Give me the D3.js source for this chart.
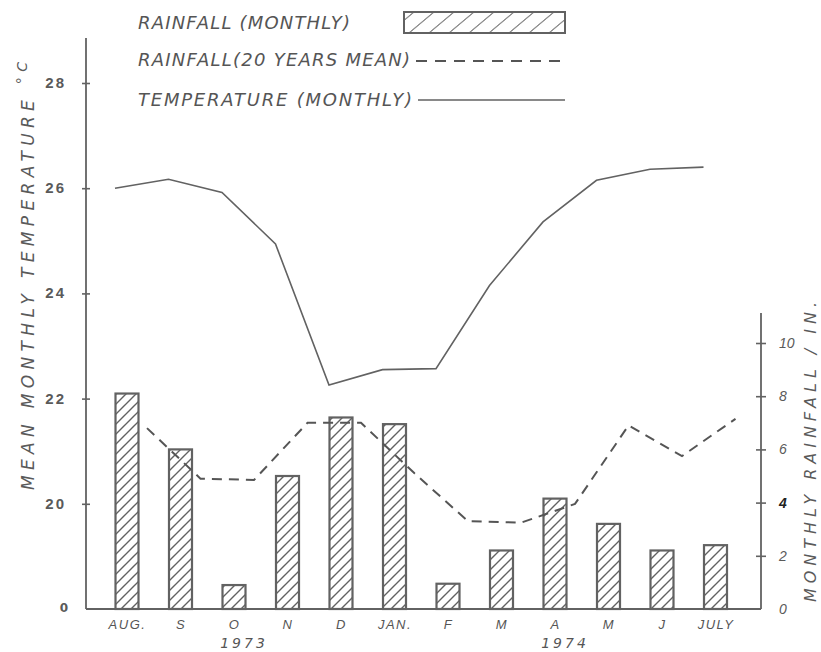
<!DOCTYPE html>
<html>
<head>
<meta charset="utf-8">
<script src="https://cdn.jsdelivr.net/npm/d3@7"></script>
<style>
  body { margin: 0; background: #fff; }
  svg { display: block; }
</style>
</head>
<body>
<script>
// months Aug 1973 .. July 1974
const monthKeys = ["aug73", "sep73", "oct73", "nov73", "dec73", "jan74",
                   "feb74", "mar74", "apr74", "may74", "jun74", "jul74"];
const monthLabels = ["AUG.", "S", "O", "N", "D", "JAN.", "F", "M", "A", "M", "J", "JULY"];

// monthly rainfall (inches)
const rainMonthly = [8.1, 6.0, 0.9, 5.0, 7.2, 6.95, 0.95, 2.2, 4.15, 3.2, 2.2, 2.4];
// 20 years mean rainfall (inches)
const rainMean = [6.8, 4.9, 4.85, 7.0, 7.0, 5.1, 3.3, 3.25, 3.95, 6.9, 5.75, 7.15];
// mean monthly temperature (deg C)
const temperature = [26.0, 26.17, 25.92, 24.94, 22.26, 22.55, 22.57, 24.15, 25.36, 26.15, 26.36, 26.4];

const tempTicks = [20, 22, 24, 26, 28];
const rainTicks = [0, 2, 4, 6, 8, 10];
const yearLabels = [{ text: "1973", at: "oct73" }, { text: "1974", at: "apr74" }];

const W = 821, H = 652;
const ink = "#626262";
const font = "'DejaVu Sans', sans-serif";

const svg = d3.select("body").append("svg")
  .attr("width", W).attr("height", H)
  .style("font-family", font);

// hatch patterns
const defs = svg.append("defs");
defs.append("pattern")
  .attr("id", "hatch")
  .attr("patternUnits", "userSpaceOnUse")
  .attr("width", 10).attr("height", 10)
  .append("path")
  .attr("d", "M-2,2 L2,-2 M0,10 L10,0 M8,12 L12,8")
  .attr("stroke", ink).attr("stroke-width", 1.4);
defs.append("pattern")
  .attr("id", "hatchLegend")
  .attr("patternUnits", "userSpaceOnUse")
  .attr("width", 20).attr("height", 21)
  .attr("patternTransform", "translate(404,12) skewX(-50)")
  .append("line")
  .attr("x1", 10).attr("y1", 0).attr("x2", 10).attr("y2", 21)
  .attr("stroke", ink).attr("stroke-width", 1.4);

// scales
const x = d3.scalePoint().domain(monthKeys).range([100.25, 742.25]).padding(0.5);
const baseY = 609;
const yTemp = d3.scaleLinear().domain([18, 28]).range([baseY, 83]);
const yRain = d3.scaleLinear().domain([0, 10]).range([baseY, 343]);
const barW = 23;
const leftX = 86, rightX = 761;

// bars
svg.append("g").selectAll("rect")
  .data(rainMonthly)
  .join("rect")
  .attr("x", (d, i) => x(monthKeys[i]) - barW / 2)
  .attr("y", d => yRain(d))
  .attr("width", barW)
  .attr("height", d => baseY - yRain(d))
  .attr("fill", "url(#hatch)")
  .attr("stroke", ink)
  .attr("stroke-width", 2.2);

// 20 years mean (dashed)
const meanLine = d3.line()
  .x((d, i) => x(monthKeys[i]) + 20)
  .y(d => yRain(d));
svg.append("path")
  .datum(rainMean)
  .attr("d", meanLine)
  .attr("fill", "none")
  .attr("stroke", "#555")
  .attr("stroke-width", 2)
  .attr("stroke-dasharray", "10,7");

// temperature line
const tempLine = d3.line()
  .x((d, i) => x(monthKeys[i]) - 12)
  .y(d => yTemp(d));
svg.append("path")
  .datum(temperature)
  .attr("d", tempLine)
  .attr("fill", "none")
  .attr("stroke", ink)
  .attr("stroke-width", 1.6);

// axes lines
svg.append("line")
  .attr("x1", leftX).attr("x2", leftX).attr("y1", 38).attr("y2", baseY)
  .attr("stroke", ink).attr("stroke-width", 1.8);
svg.append("line")
  .attr("x1", rightX).attr("x2", rightX).attr("y1", 313).attr("y2", baseY)
  .attr("stroke", ink).attr("stroke-width", 1.8);
svg.append("line")
  .attr("x1", leftX).attr("x2", rightX).attr("y1", baseY).attr("y2", baseY)
  .attr("stroke", ink).attr("stroke-width", 2);

// left axis (temperature)
const leftAxis = svg.append("g")
  .attr("transform", `translate(${leftX},0)`)
  .call(d3.axisLeft(yTemp).tickValues(tempTicks).tickSize(4).tickPadding(16));
leftAxis.select(".domain").remove();
leftAxis.selectAll(".tick line").attr("x2", 4).attr("x1", -4)
  .attr("stroke", ink).attr("stroke-width", 1.6);
leftAxis.selectAll(".tick text")
  .attr("fill", "#5a5a5a").style("font-size", "15px").style("font-weight", "bold")
  .style("letter-spacing", "2px").attr("dy", "0.3em");
svg.append("text")
  .attr("x", 64).attr("y", baseY + 3)
  .attr("text-anchor", "middle")
  .attr("fill", "#5a5a5a").style("font-size", "12px").style("font-weight", "bold")
  .text("0");

// right axis (rainfall)
const rightAxis = svg.append("g")
  .attr("transform", `translate(${rightX},0)`)
  .call(d3.axisRight(yRain).tickValues(rainTicks).tickSize(5).tickPadding(13));
rightAxis.select(".domain").remove();
rightAxis.selectAll(".tick line").attr("x1", -5).attr("x2", 5)
  .attr("stroke", ink).attr("stroke-width", 1.6)
  .attr("display", d => d === 0 ? "none" : null);
rightAxis.selectAll(".tick text")
  .style("font-size", "14px").style("font-style", "italic")
  .style("font-weight", d => d === 4 ? "bold" : "normal")
  .attr("fill", d => d === 4 ? "#222" : "#5a5a5a");

// bottom axis labels
const bottomAxis = svg.append("g")
  .attr("transform", `translate(0,${baseY})`)
  .call(d3.axisBottom(x).tickSize(0).tickPadding(11)
    .tickFormat((d, i) => monthLabels[i]));
bottomAxis.select(".domain").remove();
bottomAxis.selectAll(".tick text")
  .attr("fill", "#555").style("font-size", "13px").style("font-style", "italic")
  .style("letter-spacing", "1.5px");

svg.append("g").selectAll("text")
  .data(yearLabels)
  .join("text")
  .attr("x", d => x(d.at) + 10)
  .attr("y", 648)
  .attr("text-anchor", "middle")
  .attr("fill", "#555").style("font-size", "14px").style("font-style", "italic")
  .style("letter-spacing", "3px")
  .text(d => d.text);

// axis titles
const leftTitle = svg.append("text")
  .attr("transform", "translate(34,490) rotate(-90)")
  .attr("fill", "#5a5a5a").style("font-size", "17px").style("font-style", "italic")
  .attr("textLength", 428).attr("lengthAdjust", "spacing");
leftTitle.append("tspan").text("MEAN MONTHLY TEMPERATURE ");
leftTitle.append("tspan").attr("dy", -7).style("font-size", "14px").text("°C");

svg.append("text")
  .attr("transform", "translate(816,602) rotate(-90)")
  .attr("fill", "#5a5a5a").style("font-size", "16px").style("font-style", "italic")
  .attr("textLength", 300).attr("lengthAdjust", "spacing")
  .text("MONTHLY RAINFALL / IN.");

// legend
const legendRows = [
  { text: "RAINFALL (MONTHLY)", y: 29, len: 212 },
  { text: "RAINFALL(20 YEARS MEAN)", y: 66, len: 272 },
  { text: "TEMPERATURE (MONTHLY)", y: 106, len: 274 }
];
svg.append("g").selectAll("text")
  .data(legendRows)
  .join("text")
  .attr("x", 138).attr("y", d => d.y)
  .attr("fill", "#555").style("font-size", "18px").style("font-style", "italic")
  .attr("textLength", d => d.len).attr("lengthAdjust", "spacing")
  .text(d => d.text);

svg.append("rect")
  .attr("x", 404).attr("y", 12).attr("width", 161).attr("height", 21)
  .attr("fill", "url(#hatchLegend)")
  .attr("stroke", ink).attr("stroke-width", 2);
svg.append("line")
  .attr("x1", 416).attr("x2", 565).attr("y1", 61).attr("y2", 61)
  .attr("stroke", "#555").attr("stroke-width", 2).attr("stroke-dasharray", "11,8");
svg.append("line")
  .attr("x1", 418).attr("x2", 565).attr("y1", 100).attr("y2", 100)
  .attr("stroke", ink).attr("stroke-width", 1.6);
</script>
</body>
</html>
